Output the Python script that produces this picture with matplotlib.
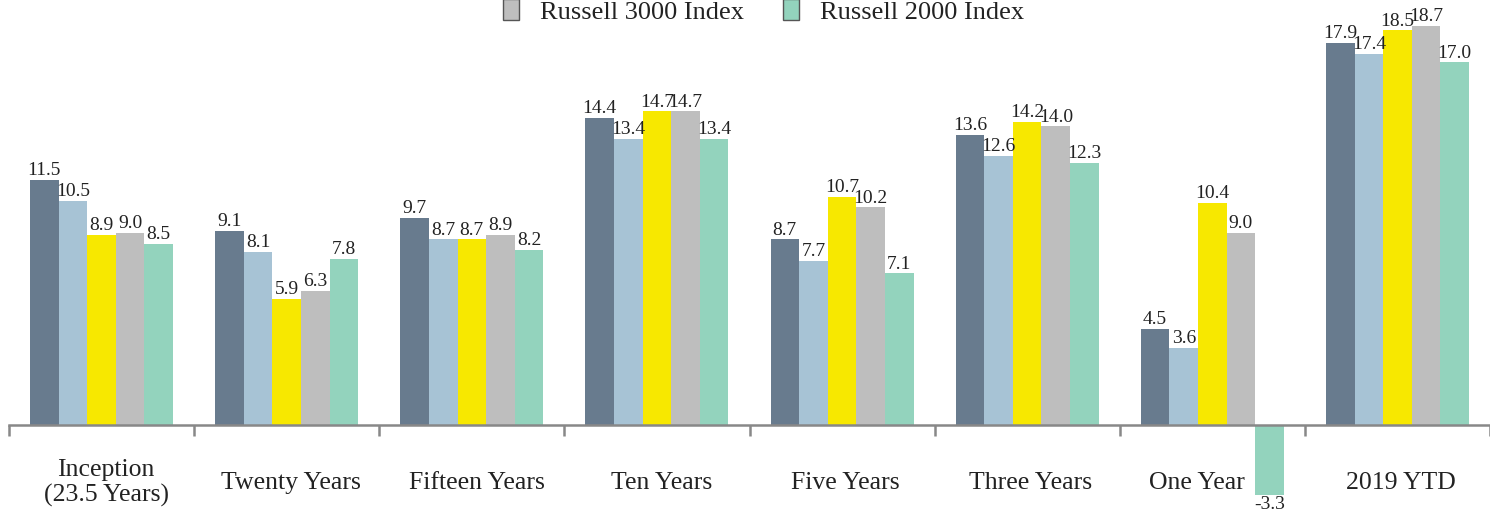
import matplotlib
matplotlib.use("Agg")
import matplotlib.pyplot as plt
from matplotlib.patches import Patch
import numpy as np

plt.rcParams['font.family'] = ['Liberation Serif', 'DejaVu Serif']

categories = ["Inception\n(23.5 Years)", "Twenty Years", "Fifteen Years", "Ten Years",
              "Five Years", "Three Years", "One Year", "2019 YTD"]
series_names = ["Series 1", "Series 2", "Series 3", "Russell 3000 Index", "Russell 2000 Index"]
series_1 = [11.5, 9.1, 9.7, 14.4, 8.7, 13.6, 4.5, 17.9]
series_2 = [10.5, 8.1, 8.7, 13.4, 7.7, 12.6, 3.6, 17.4]
series_3 = [8.9, 5.9, 8.7, 14.7, 10.7, 14.2, 10.4, 18.5]
russell_3000 = [9.0, 6.3, 8.9, 14.7, 10.2, 14.0, 9.0, 18.7]
russell_2000 = [8.5, 7.8, 8.2, 13.4, 7.1, 12.3, -3.3, 17.0]
legend_names = ["Russell 3000 Index", "Russell 2000 Index"]

colors = ["#687b8e", "#a7c3d5", "#f7e800", "#bebebe", "#93d3bd"]
all_series = [series_1, series_2, series_3, russell_3000, russell_2000]

fig = plt.figure(figsize=(14.9, 5.12), dpi=100)
ax = fig.add_axes([9 / 1490, 0, 1481 / 1490, 1])

x = np.arange(len(categories))
bw = 0.1545
for i, (vals, c) in enumerate(zip(all_series, colors)):
    bars = ax.bar(x + (i - 2) * bw, vals, width=bw, color=c, edgecolor='none',
                  label=series_names[i], zorder=2)
    ax.bar_label(bars, labels=[f"{v:.1f}" for v in vals], padding=0.5,
                 fontsize=14, color='#222222')

ax.set_xlim(-0.5, 7.45)
ax.set_ylim(-4.08, 19.92)

for s in ['top', 'right', 'left']:
    ax.spines[s].set_visible(False)
ax.spines['bottom'].set_position(('data', 0))
ax.spines['bottom'].set_color('#888888')
ax.spines['bottom'].set_linewidth(1.8)
ax.spines['bottom'].set_zorder(3)
ax.set_yticks([])
ax.set_xticks(np.arange(len(categories) + 1) - 0.5)
ax.set_xticklabels([])
ax.tick_params(axis='x', direction='out', length=8, width=1.8, color='#888888')

label_shift = [0.025, 0.025, 0.025, 0.025, 0.02, 0.02, -0.085, 0.02]
for xi, cat, sh in zip(x, categories, label_shift):
    ax.text(xi + sh, -2.72, cat, ha='center', va='center', fontsize=18.5,
            color='#222222', linespacing=1.15)

handles = [Patch(facecolor=colors[3], edgecolor='#555555', linewidth=1),
           Patch(facecolor=colors[4], edgecolor='#555555', linewidth=1)]
fig.legend(handles, legend_names, loc='center', bbox_to_anchor=(0.5125, 0.978),
           ncol=2, frameon=False, fontsize=19, handlelength=0.6, handleheight=0.85,
           handletextpad=0.8, columnspacing=1.5, labelcolor='#222222')

fig.savefig("out.png", dpi=100)
